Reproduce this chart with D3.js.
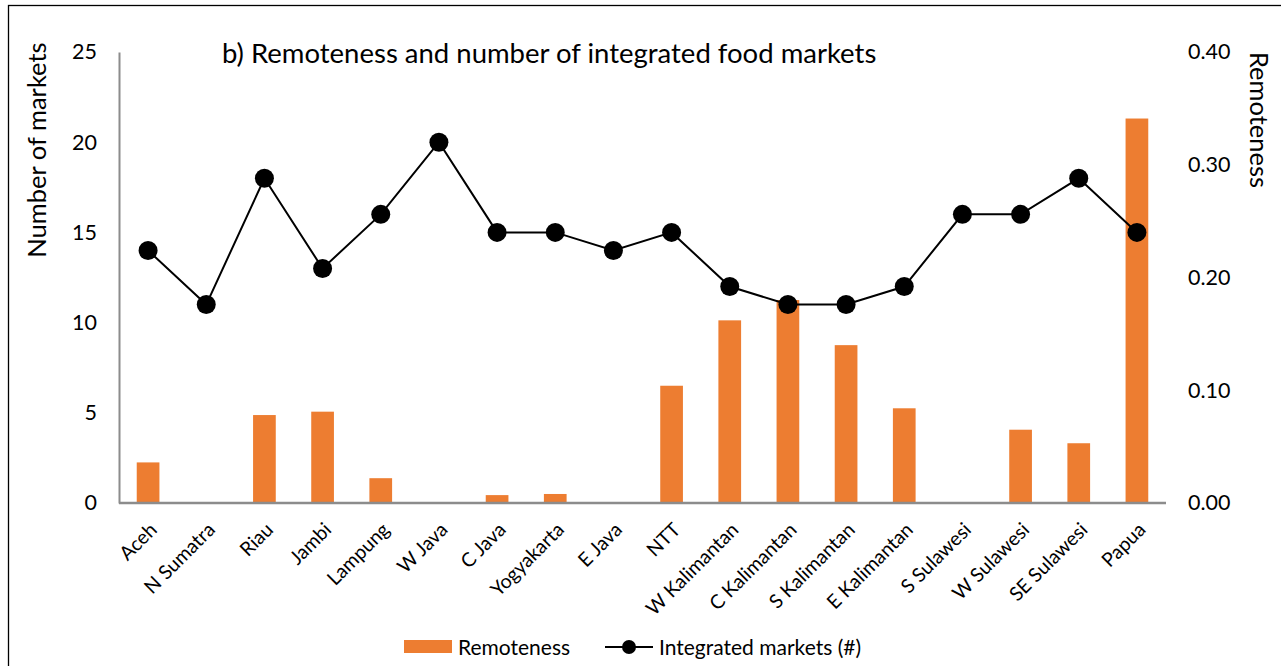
<!DOCTYPE html>
<html>
<head>
<meta charset="utf-8">
<script src="https://cdn.jsdelivr.net/npm/d3@7"></script>
<style>
  body { margin: 0; background: #fff; }
  svg text { font-family: Lato, "Open Sans", sans-serif; fill: #000; }
</style>
</head>
<body>
<div class="viewport"></div>
<script>
const provinces = ["Aceh", "N Sumatra", "Riau", "Jambi", "Lampung", "W Java", "C Java",
  "Yogyakarta", "E Java", "NTT", "W Kalimantan", "C Kalimantan", "S Kalimantan",
  "E Kalimantan", "S Sulawesi", "W Sulawesi", "SE Sulawesi", "Papua"];
const remoteness = [0.036, 0, 0.078, 0.081, 0.022, 0, 0.007, 0.008, 0, 0.104,
  0.162, 0.180, 0.140, 0.084, 0, 0.065, 0.053, 0.341];
const integratedMarkets = [14, 11, 18, 13, 16, 20, 15, 15, 14, 15, 12, 11, 11, 12, 16, 16, 18, 15];
const leftTicks = [0, 5, 10, 15, 20, 25];
const rightTicks = [0, 0.1, 0.2, 0.3, 0.4];

const W = 1281, H = 666;
const plot = { left: 119, right: 1166, top: 52, bottom: 503 };
const orange = "#ED7D31";

const svg = d3.select(".viewport").append("svg")
  .attr("width", W).attr("height", H);

// outer frame
svg.append("rect")
  .attr("x", 8.5).attr("y", 5.5)
  .attr("width", W + 10).attr("height", H + 10)
  .attr("fill", "none").attr("stroke", "#000").attr("stroke-width", 1.3);

const x = d3.scaleBand().domain(provinces).range([plot.left, plot.right]).paddingInner(0).paddingOuter(0);
const yL = d3.scaleLinear().domain([0, 25]).range([plot.bottom, plot.top]);
const yR = d3.scaleLinear().domain([0, 0.4]).range([plot.bottom, plot.top]);

const barW = 22.7;

// bars
svg.append("g").selectAll("rect")
  .data(remoteness)
  .enter().append("rect")
  .attr("x", (d, i) => x(provinces[i]) + x.bandwidth() / 2 - barW / 2)
  .attr("y", d => yR(d))
  .attr("width", barW)
  .attr("height", d => plot.bottom - yR(d))
  .attr("fill", orange);

// left axis
const gL = svg.append("g").attr("transform", "translate(" + plot.left + ",0)")
  .call(d3.axisLeft(yL).tickValues(leftTicks).tickSize(0).tickPadding(22));
gL.select(".domain").attr("stroke", "#8c8c8c").attr("stroke-width", 2);
gL.selectAll("text").attr("font-size", 21.5).style("font-family", "Lato, sans-serif");

// right axis
const gR = svg.append("g").attr("transform", "translate(" + plot.right + ",0)")
  .call(d3.axisRight(yR).tickValues(rightTicks).tickSize(0).tickPadding(22).tickFormat(d3.format(".2f")));
gR.select(".domain").remove();
gR.selectAll("text").attr("font-size", 21.5).style("font-family", "Lato, sans-serif");

// bottom axis line
svg.append("line")
  .attr("x1", plot.left).attr("x2", plot.right)
  .attr("y1", plot.bottom).attr("y2", plot.bottom)
  .attr("stroke", "#8c8c8c").attr("stroke-width", 2.5);

// category labels
svg.append("g").selectAll("text")
  .data(provinces)
  .enter().append("text")
  .attr("transform", d => "translate(" + (x(d) + x.bandwidth() / 2 + 10) + ",531) rotate(-45)")
  .attr("text-anchor", "end")
  .attr("font-size", 19.5)
  .text(d => d);

// line series
const line = d3.line()
  .x((d, i) => x(provinces[i]) + x.bandwidth() / 2)
  .y(d => yL(d));

svg.append("path")
  .datum(integratedMarkets)
  .attr("d", line)
  .attr("fill", "none")
  .attr("stroke", "#000")
  .attr("stroke-width", 2);

svg.append("g").selectAll("circle")
  .data(integratedMarkets)
  .enter().append("circle")
  .attr("cx", (d, i) => x(provinces[i]) + x.bandwidth() / 2)
  .attr("cy", d => yL(d))
  .attr("r", 9.5)
  .attr("fill", "#000");

// title
svg.append("text")
  .attr("x", 222).attr("y", 63)
  .attr("font-size", 27.5)
  .text("b) Remoteness and number of integrated food markets");

// axis titles
svg.append("text")
  .attr("transform", "translate(46,150) rotate(-90)")
  .attr("text-anchor", "middle")
  .attr("font-size", 25.5)
  .text("Number of markets");

svg.append("text")
  .attr("transform", "translate(1250,120) rotate(90)")
  .attr("text-anchor", "middle")
  .attr("font-size", 25.5)
  .text("Remoteness");

// legend
const leg = svg.append("g");
leg.append("rect")
  .attr("x", 404).attr("y", 640).attr("width", 48).attr("height", 13)
  .attr("fill", orange);
leg.append("text")
  .attr("x", 458).attr("y", 655).attr("font-size", 21)
  .text("Remoteness");
leg.append("line")
  .attr("x1", 605).attr("x2", 653).attr("y1", 647).attr("y2", 647)
  .attr("stroke", "#000").attr("stroke-width", 2);
leg.append("circle")
  .attr("cx", 629).attr("cy", 647).attr("r", 7).attr("fill", "#000");
leg.append("text")
  .attr("x", 659).attr("y", 655).attr("font-size", 21)
  .text("Integrated markets (#)");
</script>
</body>
</html>
